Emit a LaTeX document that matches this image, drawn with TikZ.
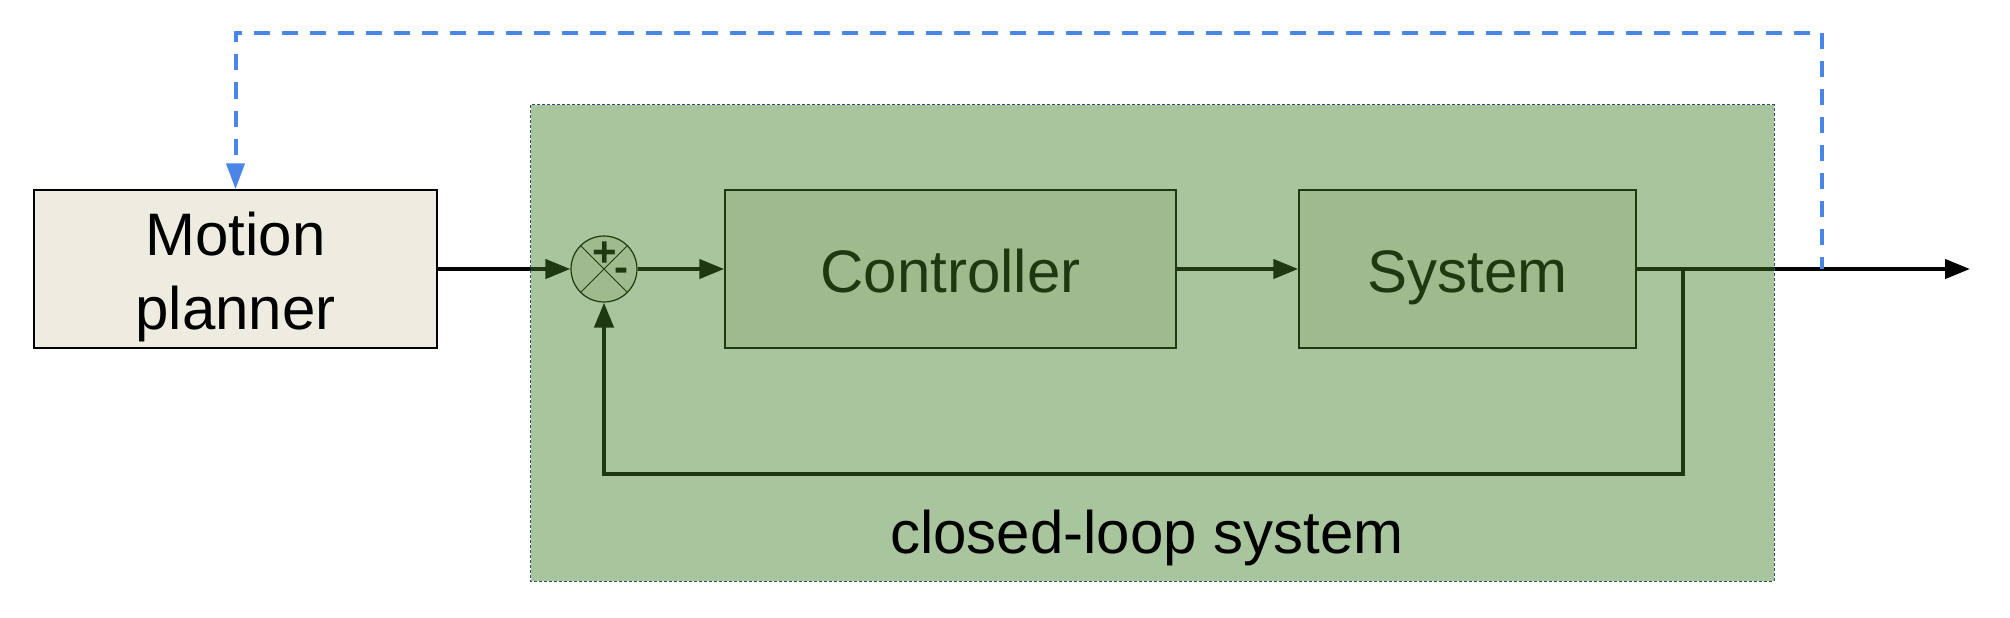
\documentclass[tikz,border=0pt]{standalone}
\usepackage{fontspec}
\setmainfont{Liberation Sans}
\usetikzlibrary{arrows.meta}
\definecolor{beige}{HTML}{EEECE1}
\definecolor{ovl}{HTML}{427F28}
\definecolor{navy}{HTML}{294C74}
\definecolor{gblue}{HTML}{4A86E8}
\newcommand\mystrut{\rule[-14pt]{0pt}{74pt}}
\begin{document}
\begin{tikzpicture}[x=1pt,y=-1pt,
  blk/.style={draw=black, line width=1.5pt, fill=beige, inner sep=0pt,
    font=\fontsize{60}{74}\selectfont, align=center},
  sig/.style={draw=black, line width=4.3pt, -{Triangle[length=25pt,width=19pt]}},
  sgn/.style={font=\fontsize{42}{42}\bfseries\selectfont, anchor=base, inner sep=0pt},
  plan/.style={draw=gblue, line width=4pt, dash pattern=on 16pt off 12pt, dash phase=4pt,
    -{Triangle[length=26pt,width=18pt]}},
  loopbox/.style={draw=none, fill=ovl, fill opacity=0.455, inner sep=0pt,
    minimum width=1243pt, minimum height=476pt},
  loopborder/.style={draw=navy, line width=1.2pt, dash pattern=on 3pt off 2pt},
  lbl/.style={font=\fontsize{60}{74}\selectfont, anchor=base, inner sep=0pt}]
\useasboundingbox (0,0) rectangle (2010,618);
\node[blk, minimum width=403pt, minimum height=158pt] (mp) at (235.5,269) {\mystrut Motion\\\mystrut planner};
\node[blk, minimum width=451pt, minimum height=158pt] (ctrl) at (950.5,269) {\mystrut Controller};
\node[blk, minimum width=337pt, minimum height=158pt] (sys) at (1467.5,269) {\mystrut System};
\node[circle, draw=black, line width=1.2pt, fill=beige, minimum size=66pt, inner sep=0pt] (sum) at (604,269) {};
\draw[line width=1pt] (sum.45) -- (sum.225) (sum.135) -- (sum.315);
\node[sgn] (plus) at (605,266) {+};
\node[sgn] (minus) at (621,281) {-};
\coordinate (out) at (1970,269);
\coordinate (br) at (1683,269);
\coordinate (fb) at (1683,474);
\draw[sig] (mp.east) -- (sum.west);
\draw[sig] (sum.east) -- (ctrl.west);
\draw[sig] (ctrl.east) -- (sys.west);
\draw[sig] (sys.east) -- (out);
\draw[sig] (br) -- (fb) -| (sum.south);
\coordinate (b1) at (1822,269);
\coordinate (b2) at (1822,33);
\draw[plan] (b1) -- (b2) -| (mp.north);
\node[loopbox] (loop) at (1152.5,343) {};
\draw[loopborder] (loop.north west) rectangle (loop.south east);
\node[lbl] (cls) at (1147,553) {closed-loop system};
\end{tikzpicture}
\end{document}
